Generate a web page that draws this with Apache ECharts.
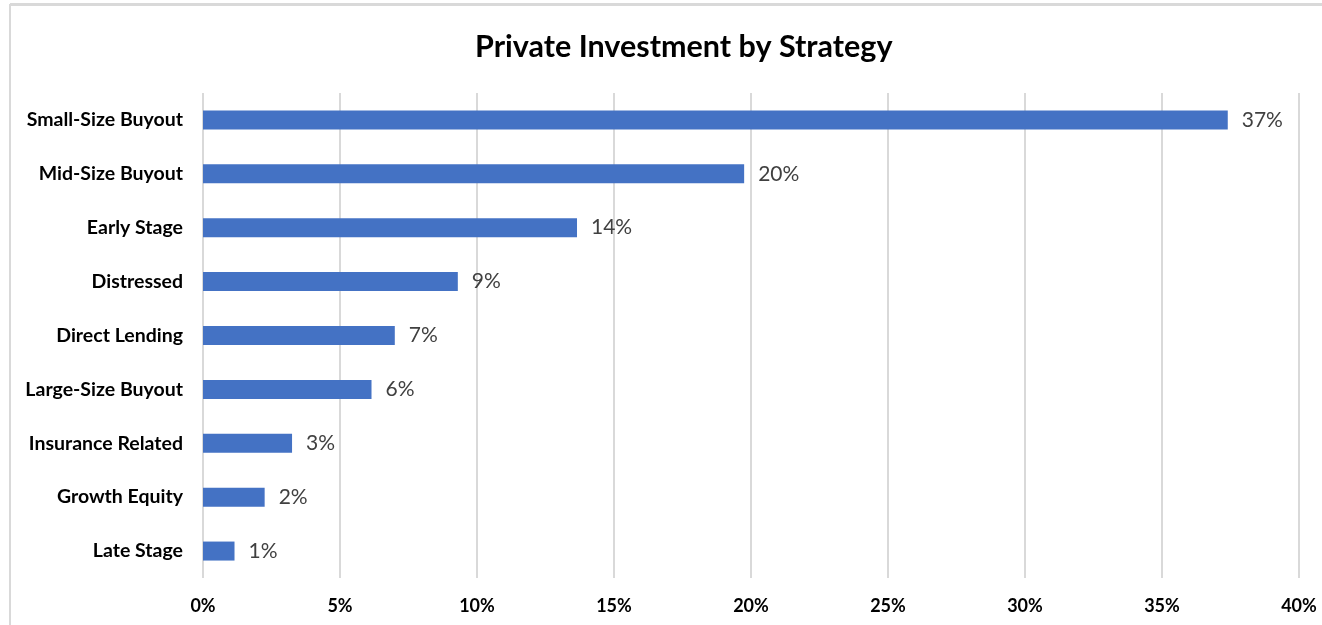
<!DOCTYPE html>
<html>
<head>
<meta charset="utf-8">
<script src="https://cdn.jsdelivr.net/npm/echarts@6/dist/echarts.min.js"></script>
<style>html,body{margin:0;padding:0;background:#fff;}#c{width:1322px;height:625px;}</style>
</head>
<body>
<div id="c"></div>
<script>
const titleText = 'Private Investment by Strategy';
const categories = ['Small-Size Buyout','Mid-Size Buyout','Early Stage','Distressed','Direct Lending','Large-Size Buyout','Insurance Related','Growth Equity','Late Stage'];
const values = [37.4, 19.75, 13.65, 9.3, 7.0, 6.15, 3.25, 2.25, 1.15];
const xTicks = [0, 5, 10, 15, 20, 25, 30, 35, 40];

const FONT = 'Lato, "Open Sans", sans-serif';
const chart = echarts.init(document.getElementById('c'), null, {renderer: 'canvas'});
chart.setOption({
  animation: false,
  backgroundColor: '#fff',
  title: {
    text: titleText, left: 470, top: 27,
    textStyle: {fontFamily: FONT, fontSize: 30.5, fontWeight: 'bold', color: '#000'}
  },
  graphic: [
    {type: 'line', shape: {x1: 10, y1: 4.5, x2: 1322, y2: 4.5}, style: {stroke: '#d9d9d9', lineWidth: 3}},
    {type: 'line', shape: {x1: 10, y1: 4, x2: 10, y2: 625}, style: {stroke: '#d9d9d9', lineWidth: 2}}
  ],
  grid: {left: 203, right: 23, top: 93, bottom: 47, containLabel: false},
  xAxis: {
    type: 'value', min: xTicks[0], max: xTicks[xTicks.length - 1], interval: 5,
    axisLine: {show: false}, axisTick: {show: false},
    splitLine: {show: true, lineStyle: {color: '#d9d9d9', width: 2}},
    axisLabel: {formatter: v => v + '%', margin: 19, fontFamily: FONT, fontSize: 18, fontWeight: 'bold', color: '#000'}
  },
  yAxis: {
    type: 'category', data: categories, inverse: true,
    axisLine: {show: false}, axisTick: {show: false},
    axisLabel: {margin: 20, fontFamily: FONT, fontSize: 19.5, fontWeight: 'bold', color: '#000'}
  },
  series: [{
    type: 'bar', data: values, barWidth: 19,
    itemStyle: {color: '#4472c4'},
    label: {show: true, position: 'right', distance: 14, formatter: p => Math.round(p.value) + '%',
      fontFamily: FONT, fontSize: 21, color: '#404040'}
  }]
});
</script>
</body>
</html>
